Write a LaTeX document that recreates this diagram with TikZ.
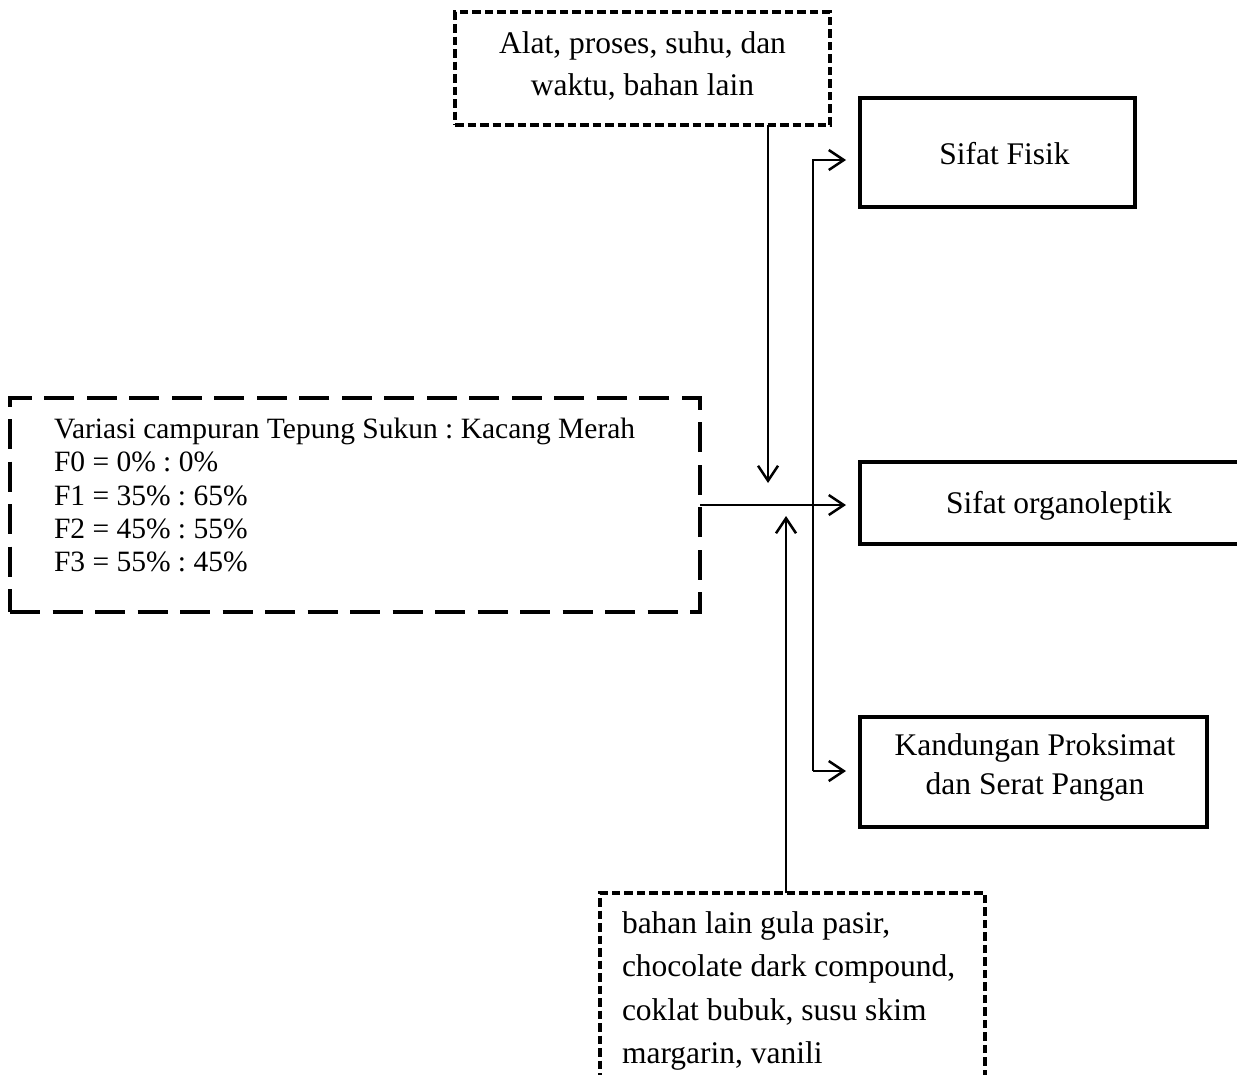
\documentclass[tikz,border=0pt]{standalone}
\usepackage{fontspec}
\setmainfont{Liberation Serif}
\usetikzlibrary{arrows.meta}
\frenchspacing
\newcommand\mainfs{\fontsize{31.5pt}{38pt}\selectfont}
\newcommand\leftfs{\fontsize{29.5pt}{34pt}\selectfont}
\begin{document}
\begin{tikzpicture}[x=1pt,y=-1pt,
  every node/.style={inner sep=0pt, outer sep=0pt},
  solidbox/.style={draw, rectangle, line width=4pt},
  shortdash/.style={draw, rectangle, line width=3.2pt, dash pattern=on 8.5pt off 4pt},
  longdash/.style={draw, rectangle, line width=4pt, dash pattern=on 30pt off 12.5pt},
  arr/.style={line width=2.5pt, -{Straight Barb[length=15pt,width=20pt]}},
  txt/.style={font=\mainfs, anchor=base},
  txtl/.style={font=\mainfs, anchor=base west},
  ltxt/.style={font=\leftfs, anchor=base west}]
\clip (0,0) rectangle (1237,1074);
% boxes
\node[shortdash, minimum width=375pt, minimum height=113pt] (topbox) at (642.5,68.5) {};
\node[longdash, minimum width=690pt, minimum height=214pt] (leftbox) at (355,505) {};
\node[shortdash, minimum width=385pt, minimum height=200pt] (botbox) at (792.5,993) {};
\node[solidbox, minimum width=275pt, minimum height=109pt] (fisik) at (997.5,152.5) {};
\node[solidbox, minimum width=398pt, minimum height=82pt] (organo) at (1059,503) {};
\node[solidbox, minimum width=347pt, minimum height=110pt] (kand) at (1033.5,772) {};
% texts
\node[txt] (t1) at (642.5,53) {Alat, proses, suhu, dan};
\node[txt] (t2) at (642.5,95) {waktu, bahan lain};
\node[ltxt] (l1) at (54,438) {Variasi campuran Tepung Sukun : Kacang Merah};
\node[ltxt] (l2) at (54,471) {F0 = 0\% : 0\%};
\node[ltxt] (l3) at (54,505) {F1 = 35\% : 65\%};
\node[ltxt] (l4) at (54,538) {F2 = 45\% : 55\%};
\node[ltxt] (l5) at (54,571) {F3 = 55\% : 45\%};
\node[txt] (f1) at (1004.5,164) {Sifat Fisik};
\node[txt] (o1) at (1059,513) {Sifat organoleptik};
\node[txt] (k1) at (1035,755) {Kandungan Proksimat};
\node[txt] (k2) at (1035,794) {dan Serat Pangan};
\node[txtl] (b1) at (622,933) {bahan lain gula pasir,};
\node[txtl] (b2) at (622,976.5) {chocolate dark compound,};
\node[txtl] (b3) at (622,1020) {coklat bubuk, susu skim};
\node[txtl] (b4) at (622,1063.5) {margarin, vanili};
% connectors
\coordinate (downend) at (768,483);
\coordinate (upend) at (786,516);
\coordinate (jt) at (813,160);
\coordinate (jb) at (813,771);
\draw[arr] (topbox.south -| downend) -- (downend);
\draw[arr] (botbox.north -| upend) -- (upend);
\draw[arr, shorten >=14pt] (leftbox.east) -- (leftbox.east -| organo.west);
\draw[arr, shorten >=14pt] (jb) -- (jt) -- (jt -| fisik.west);
\draw[arr, shorten >=14pt] (jb) -- (jb -| kand.west);
\end{tikzpicture}
\end{document}
